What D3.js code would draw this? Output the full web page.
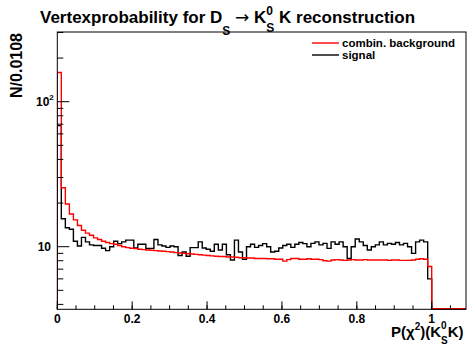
<!DOCTYPE html>
<html>
<head>
<meta charset="utf-8">
<script src="https://cdn.jsdelivr.net/npm/d3@7"></script>
<style>
  body { margin: 0; background: #fff; }
  text { font-family: "Liberation Sans", Arial, Helvetica, sans-serif; font-weight: bold; }
</style>
</head>
<body>
<div id="chart"></div>
<script>
// histogram contents (93 bins from 0 to 1, then empty)
const background = [159, 25.5, 19.7, 16.8, 15.3, 14.0, 13.0, 12.4, 12.0, 11.5,
  11.2, 10.9, 10.7, 10.5, 10.4, 10.2, 10.0, 9.85, 9.75, 9.7,
  9.6, 9.55, 9.5, 9.45, 9.4, 9.35, 9.3, 9.25, 9.2, 9.1,
  9.05, 9.0, 8.95, 8.9, 8.85, 8.8, 8.75, 8.7, 8.65, 8.6,
  8.55, 8.55, 8.5, 8.5, 8.45, 8.4, 8.4, 8.35, 8.35, 8.3,
  8.3, 8.3, 8.25, 8.25, 8.2, 8.2, 7.95, 8.15, 8.3, 8.3,
  8.2, 8.2, 8.25, 8.2, 8.2, 8.15, 8.0, 7.95, 8.1, 8.15,
  8.1, 8.05, 8.1, 8.15, 8.1, 8.1, 8.15, 8.1, 8.1, 8.1,
  8.1, 8.1, 8.05, 8.1, 8.1, 8.05, 8.05, 8.05, 8.1, 8.2,
  8.25, 8.2, 7.3];

const signal = [68.4, 15.6, 13.5, 13.2, 10.9, 10.1, 11.6, 10.8, 10.3, 10.2,
  10.2, 9.75, 9.4, 10.0, 10.9, 10.5, 10.8, 11.1, 11.1, 9.8,
  10.4, 10.4, 9.74, 9.74, 11.2, 10.3, 10.1, 9.9, 10.1, 10.0,
  8.7, 9.2, 8.6, 9.85, 9.85, 10.8, 9.8, 9.6, 9.3, 10.4,
  9.5, 10.4, 8.8, 8.1, 11.1, 9.2, 8.2, 10.0, 10.4, 9.9,
  10.2, 10.5, 10.0, 9.2, 9.3, 9.8, 10.2, 10.4, 9.9, 10.4,
  10.7, 10.5, 10.0, 10.55, 10.8, 10.3, 10.55, 9.74, 10.8, 10.4,
  10.8, 10.0, 8.3, 10.0, 11.3, 10.8, 10.2, 9.5, 10.0, 10.3,
  10.8, 10.3, 10.55, 10.4, 10.7, 10.3, 10.55, 10.0, 9.0, 10.8,
  11.1, 10.8, 6.0];

const xTickValues = [0, 0.2, 0.4, 0.6, 0.8, 1];
const yMajorTicks = [10, 100];
const yMinorTicks = [4, 5, 6, 7, 8, 9, 20, 30, 40, 50, 60, 70, 80, 90, 200, 300];
const legendItems = [
  { label: "combin. background", color: "#ff0000" },
  { label: "signal", color: "#000000" }
];

const W = 467, H = 347;
const fLeft = 57.3, fRight = 466, fTop = 32, fBottom = 309.3;
const xMax = 1.0916;
const histEnd = 1.0;

const svg = d3.select("#chart").append("svg")
  .attr("width", W).attr("height", H);

const x = d3.scaleLinear().domain([0, xMax]).range([fLeft, fRight]);
const y = d3.scaleLog().domain([3.7, 302.6]).range([fBottom, fTop]);

svg.append("defs").append("clipPath").attr("id", "frame")
  .append("rect").attr("x", fLeft).attr("y", fTop - 1)
  .attr("width", fRight - fLeft).attr("height", fBottom - fTop + 2);

// step outline like ROOT's histogram drawing
function histPath(vals) {
  const bw = histEnd / vals.length;
  let p = "M" + x(0) + "," + fBottom;
  vals.forEach((v, i) => {
    p += "V" + y(v) + "H" + x((i + 1) * bw);
  });
  p += "V" + (fBottom - 0.5) + "H" + x(xMax);
  return p;
}

const plot = svg.append("g").attr("clip-path", "url(#frame)");

plot.append("path")
  .attr("d", histPath(signal))
  .attr("fill", "none")
  .attr("stroke", "#000")
  .attr("stroke-width", 1.4);

plot.append("path")
  .attr("d", histPath(background))
  .attr("fill", "none")
  .attr("stroke", "#ff0000")
  .attr("stroke-width", 1.4);

// frame
svg.append("rect")
  .attr("x", fLeft).attr("y", fTop)
  .attr("width", fRight - fLeft).attr("height", fBottom - fTop)
  .attr("fill", "none").attr("stroke", "#000").attr("stroke-width", 1);

// x axis ticks (drawn inward)
const xMinor = d3.range(0, xMax, 0.05);
svg.selectAll(".xminor").data(xMinor).enter().append("line")
  .attr("x1", d => x(d)).attr("x2", d => x(d))
  .attr("y1", fBottom).attr("y2", fBottom - 4)
  .attr("stroke", "#000");
svg.selectAll(".xmajor").data(xTickValues).enter().append("line")
  .attr("x1", d => x(d)).attr("x2", d => x(d))
  .attr("y1", fBottom).attr("y2", fBottom - 8)
  .attr("stroke", "#000");
svg.selectAll(".xlabel").data(xTickValues).enter().append("text")
  .attr("x", d => x(d)).attr("y", 322.5)
  .attr("text-anchor", "middle")
  .attr("font-size", 12)
  .text(d => d3.format("~g")(d));

// y axis ticks
svg.selectAll(".yminor").data(yMinorTicks).enter().append("line")
  .attr("x1", fLeft).attr("x2", fLeft + 6)
  .attr("y1", d => y(d)).attr("y2", d => y(d))
  .attr("stroke", "#000");
svg.selectAll(".ymajor").data(yMajorTicks).enter().append("line")
  .attr("x1", fLeft).attr("x2", fLeft + 12)
  .attr("y1", d => y(d)).attr("y2", d => y(d))
  .attr("stroke", "#000");

svg.append("text")
  .attr("x", 51).attr("y", y(10) + 4.5)
  .attr("text-anchor", "end").attr("font-size", 12)
  .text("10");
const t100 = svg.append("text")
  .attr("x", 36).attr("y", y(100) + 4.5)
  .attr("font-size", 12);
t100.append("tspan").text("10");
t100.append("tspan").attr("font-size", 8).attr("dy", -6).text("2");

// y title
svg.append("text")
  .attr("transform", "translate(22,33) rotate(-90)")
  .attr("text-anchor", "end")
  .attr("font-size", 16)
  .text("N/0.0108");

// x title
const xt = svg.append("text")
  .attr("x", 391).attr("y", 337)
  .attr("font-size", 15);
xt.append("tspan").text("P(\u03c7");
xt.append("tspan").attr("font-size", 10).attr("dy", -7).text("2");
xt.append("tspan").attr("dy", 7).text(")(K");
xt.append("tspan").attr("font-size", 10).attr("dy", -8).text("0");
xt.append("tspan").attr("font-size", 10).attr("dx", -5.6).attr("dy", 15).text("S");
xt.append("tspan").attr("dy", -7).text("K)");

// title
const title = svg.append("text")
  .attr("x", 40).attr("y", 23)
  .attr("font-size", 17);
title.append("tspan").text("Vertexprobability for D");
title.append("tspan").attr("font-size", 12).attr("dy", 12).text("S");
title.append("tspan").attr("dy", -12).text(" ");
title.append("tspan").style("font-family", "DejaVu Sans").style("font-weight", "normal")
  .attr("font-size", 17).text("\u2192");
title.append("tspan").text(" K");
title.append("tspan").attr("font-size", 12).attr("dy", -8).text("0");
title.append("tspan").attr("font-size", 12).attr("dx", -6.7).attr("dy", 17).text("S");
title.append("tspan").attr("dy", -9).text(" K reconstruction");

// legend
const leg = svg.selectAll(".leg").data(legendItems).enter().append("g")
  .attr("transform", (d, i) => "translate(0," + (43 + i * 12) + ")");
leg.append("line")
  .attr("x1", 312).attr("x2", 339)
  .attr("stroke", d => d.color).attr("stroke-width", 1.4);
leg.append("text")
  .attr("x", 342).attr("y", 4)
  .attr("font-size", 11.5)
  .text(d => d.label);
</script>
</body>
</html>
